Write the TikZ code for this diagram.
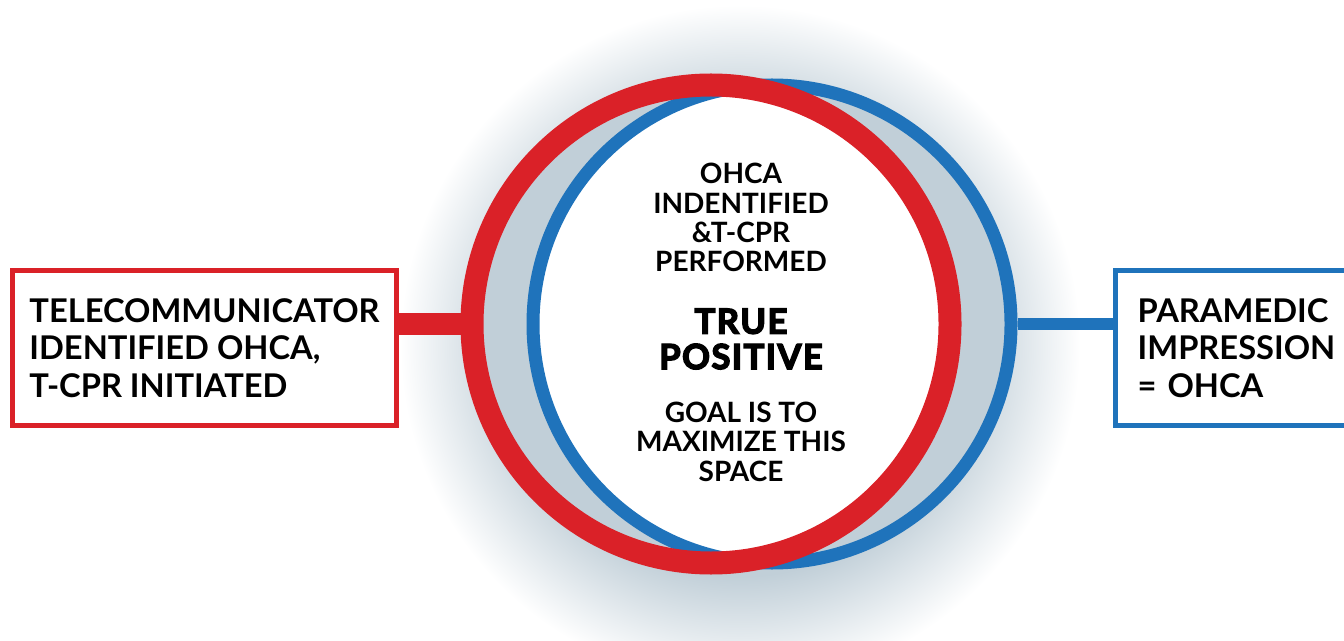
\documentclass[tikz,border=0pt]{standalone}
\usepackage{fontspec}
\setmainfont{Lato}
\newfontfamily\heavyfont{Lato}[BoldFeatures={FakeBold=4, LetterSpace=4}]
\usetikzlibrary{positioning}

\definecolor{tcred}{HTML}{DA2128}
\definecolor{pmblue}{HTML}{1F73BB}
\definecolor{halogray}{HTML}{C1CFD8}

\pgfdeclareradialshading{halo}{\pgfpoint{0bp}{0bp}}{color(0bp)=(halogray); color(17bp)=(halogray); color(25bp)=(white); color(50bp)=(white)}

\tikzset{
	ring/.style={circle, minimum size=358.5pt, inner sep=0pt},
	sidebox/.style={fill=white, line width=3.75pt, minimum height=116.25pt, align=left, font=\bfseries\fontsize{24.5}{28}\selectfont},
	lenstext/.style={align=center, inner sep=0pt, font=\bfseries\fontsize{21}{22}\selectfont}
}

\begin{document}
\begin{tikzpicture}[x=0.75pt, y=0.75pt]
	\useasboundingbox (0,0) rectangle (1344,-641);
	\coordinate (redc) at (711,-324);
	\coordinate (bluec) at (772,-324);
	% soft glow behind the rings
	\shade [shading=halo] (740,-345) circle (340);
	\fill [halogray] (redc) circle (239) (bluec) circle (239);
	\begin{scope}
		\clip (redc) circle (239);
		\fill [white] (bluec) circle (239);
	\end{scope}
	\node (bluering) [ring, draw=pmblue, line width=9.75pt] at (bluec) {};
	\node (redring) [ring, draw=tcred, line width=17.25pt] at (redc) {};
	\node (telebox) [sidebox, draw=tcred, minimum width=288pt] at (204.5,-348) {TELECOMMUNICATOR\\IDENTIFIED OHCA,\\T-CPR INITIATED};
	\node (pmbox) [sidebox, draw=pmblue, anchor=west, text width=200pt, inner xsep=17pt] at (1112.5,-348) {PARAMEDIC\\IMPRESSION\\= OHCA};
	\draw [tcred, line width=16.5pt] (telebox.east |- redring.west) -- (redring.west);
	\draw [pmblue, line width=9pt] (bluering.east) -- (bluering.east -| pmbox.west);
	% texts in the overlap
	\node (truepos) [align=center, inner sep=0pt, font=\heavyfont\bfseries\fontsize{26}{26.5}\selectfont] at (741,-339) {TRUE\\POSITIVE};
	\node (detected) [lenstext, above=27pt of truepos] {OHCA\\INDENTIFIED\\\&T-CPR\\PERFORMED};
	\node (goal) [lenstext, below=24pt of truepos] {GOAL IS TO\\MAXIMIZE THIS\\SPACE};
\end{tikzpicture}
\end{document}
